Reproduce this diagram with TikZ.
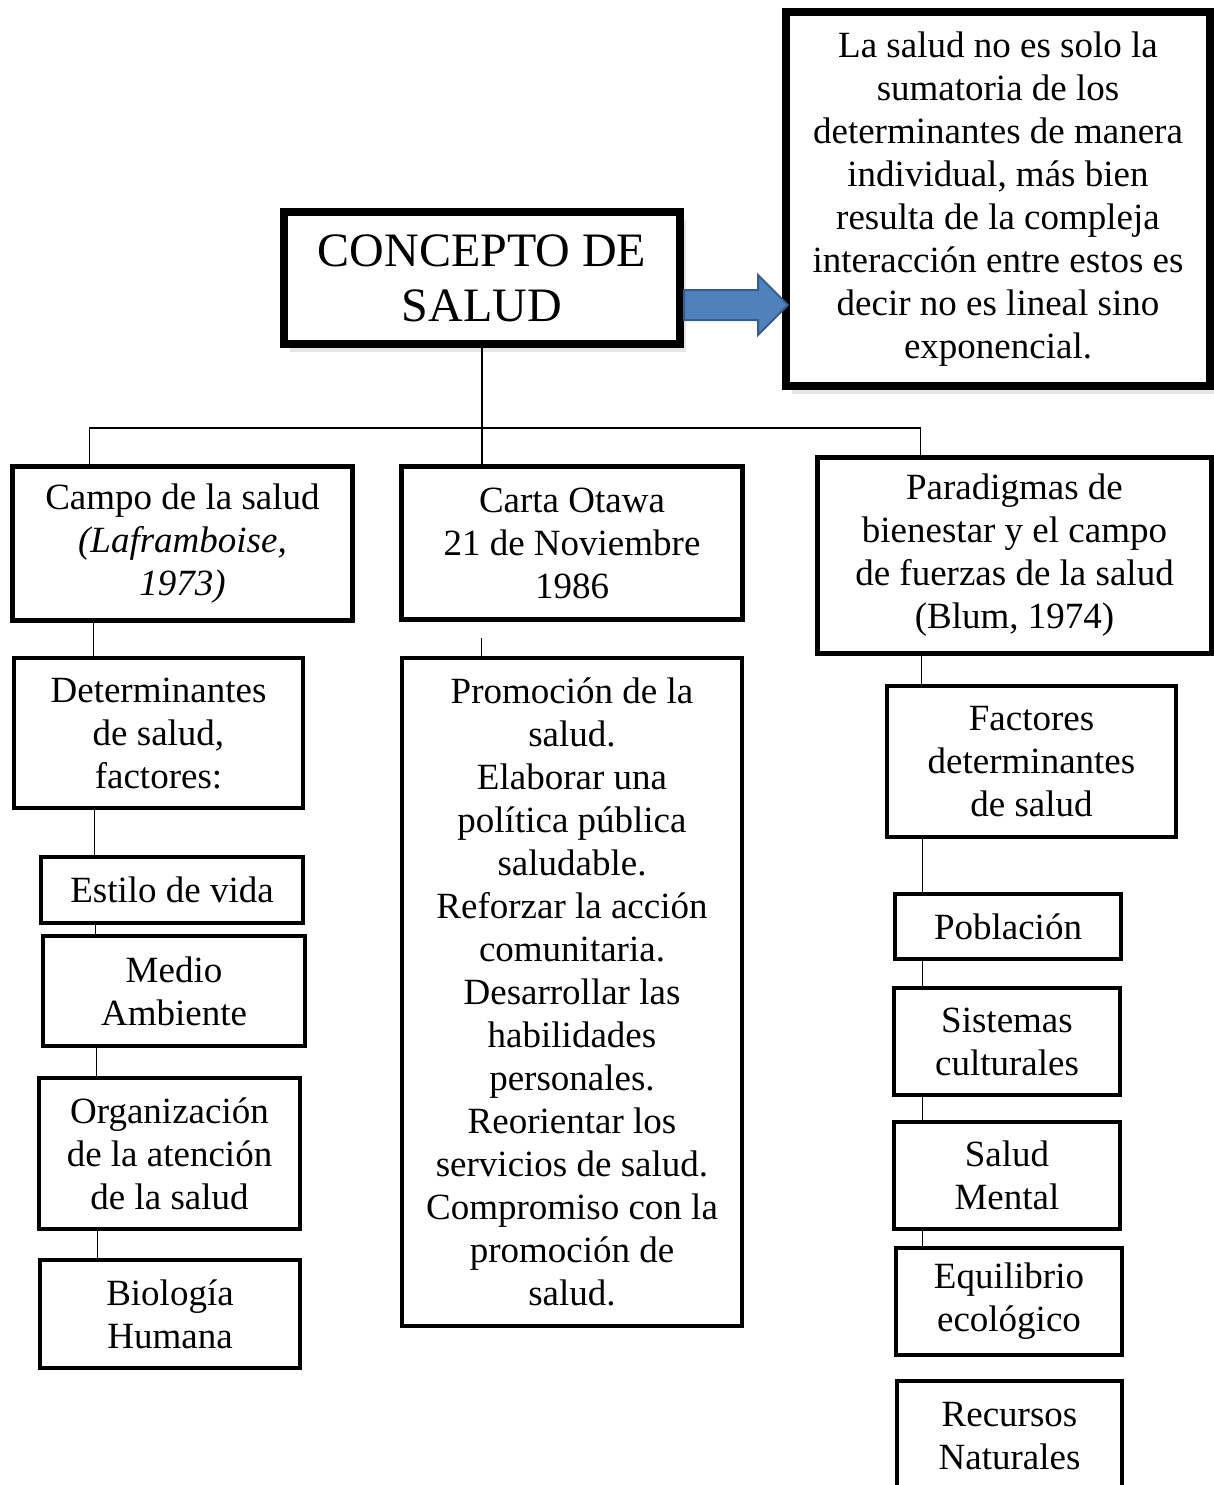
\documentclass[tikz,border=0pt]{standalone}
\usepackage{fontspec}
\setmainfont{Liberation Serif}
\usetikzlibrary{shadows}
\definecolor{flecha}{RGB}{79,129,189}
\definecolor{flechaborde}{RGB}{56,93,138}

\begin{document}
\begin{tikzpicture}[x=0.5pt,y=-0.5pt,
    caja/.style={draw,align=center,inner sep=0pt,font=\fontsize{18.5}{21.5}\selectfont},
    gruesa/.style={caja,line width=4pt,fill=white},
    media/.style={caja,line width=2.5pt},
    fina/.style={caja,line width=1.75pt},
    sombra/.style={drop shadow={shadow xshift=3pt,shadow yshift=-4pt,opacity=.2}},
    link/.style={line width=0.7pt}]
			\useasboundingbox (0,0) rectangle (1214,1485);
			%nivel superior
			\node[gruesa,sombra,minimum width=198pt,minimum height=66pt,font=\fontsize{24}{27.5}\selectfont] (concepto) at (482,278) {CONCEPTO DE\\SALUD};
			\node[gruesa,sombra,minimum width=212pt,minimum height=187pt] (nota) at (998,199) {La salud no es solo la\\sumatoria de los\\determinantes de manera\\individual, más bien\\resulta de la compleja\\interacción entre estos es\\decir no es lineal sino\\exponencial.};
			\draw[fill=flecha,draw=flechaborde,line width=1pt] (684,290) -- (758,290) -- (758,275) -- (788,305) -- (758,335) -- (758,320) -- (684,320) -- cycle;
			%tres ramas
			\node[media,minimum width=170pt,minimum height=77pt] (campo) at (182.5,543.5) {Campo de la salud\\\textit{(Laframboise,}\\\textit{1973)}};
			\node[media,minimum width=170.5pt,minimum height=76.5pt] (carta) at (572,543) {Carta Otawa\\21 de Noviembre\\1986};
			\node[media,minimum width=197pt,minimum height=98pt] (paradigmas) at (1014.5,555.5) {Paradigmas de\\bienestar y el campo\\de fuerzas de la salud\\(Blum, 1974)};
			\coordinate (rama) at (482,428);
			\draw[link] (concepto.south) -- ([yshift=-2pt]concepto.south |- carta.north);
			\draw[link] ([xshift=39.75pt]campo.north west) |- (rama) -| ([xshift=52.75pt]paradigmas.north west);
			%columna izquierda
			\node[fina,minimum width=144.5pt,minimum height=75pt] (determinantes) at (158.5,733) {Determinantes\\de salud,\\factores:};
			\node[fina,minimum width=131pt,minimum height=33pt] (estilo) at (172,890) {Estilo de vida};
			\node[fina,minimum width=131pt,minimum height=55pt] (medio) at (174,991) {Medio\\Ambiente};
			\node[fina,minimum width=130.5pt,minimum height=75.5pt] (organizacion) at (169.5,1153.5) {Organización\\de la atención\\de la salud};
			\node[fina,minimum width=130pt,minimum height=54pt] (biologia) at (170,1314) {Biología\\Humana};
			\draw[link] ([xshift=40.5pt]determinantes.north west) -- ([xshift=40.5pt]determinantes.north west |- campo.south);
			\draw[link] ([xshift=27.5pt]estilo.north west) -- ([xshift=27.5pt]estilo.north west |- determinantes.south);
			\draw[link] ([xshift=27pt]medio.north west) -- ([xshift=27pt]medio.north west |- estilo.south);
			\draw[link] ([xshift=29.5pt]organizacion.north west) -- ([xshift=29.5pt]organizacion.north west |- medio.south);
			\draw[link] ([xshift=29.5pt]biologia.north west) -- ([xshift=29.5pt]biologia.north west |- organizacion.south);
			%columna central
			\node[fina,minimum width=170pt,minimum height=334pt] (promocion) at (572,992) {Promoción de la\\salud.\\Elaborar una\\política pública\\saludable.\\Reforzar la acción\\comunitaria.\\Desarrollar las\\habilidades\\personales.\\Reorientar los\\servicios de salud.\\Compromiso con la\\promoción de\\salud.};
			\draw[link] ([xshift=40.5pt]promocion.north west) -- ++(0,-18);
			%columna derecha
			\node[fina,minimum width=144.5pt,minimum height=75.5pt] (factores) at (1031.5,761.5) {Factores\\determinantes\\de salud};
			\node[fina,minimum width=113pt,minimum height=32.5pt] (poblacion) at (1008,926.5) {Población};
			\node[fina,minimum width=113pt,minimum height=53.5pt] (sistemas) at (1007,1041.5) {Sistemas\\culturales};
			\node[fina,minimum width=113pt,minimum height=53.5pt] (mental) at (1007,1175.5) {Salud\\Mental};
			\node[fina,minimum width=113pt,minimum height=53.5pt] (equilibrio) at (1009,1301.5) {Equilibrio\\ecológico};
			\node[fina,minimum width=112.5pt,minimum height=55pt] (recursos) at (1009.5,1436) {Recursos\\Naturales};
			\draw[link] ([xshift=18pt]factores.north west) -- ([xshift=18pt]factores.north west |- paradigmas.south);
			\draw[link] ([xshift=14.5pt]poblacion.north west) -- ([xshift=14.5pt]poblacion.north west |- factores.south);
			\draw[link] ([xshift=15pt]sistemas.north west) -- ([xshift=15pt]sistemas.north west |- poblacion.south);
			\draw[link] ([xshift=15pt]mental.north west) -- ([xshift=15pt]mental.north west |- sistemas.south);
			\draw[link] ([xshift=14pt]equilibrio.north west) -- ([xshift=14pt]equilibrio.north west |- mental.south);

		\end{tikzpicture}
\end{document}
